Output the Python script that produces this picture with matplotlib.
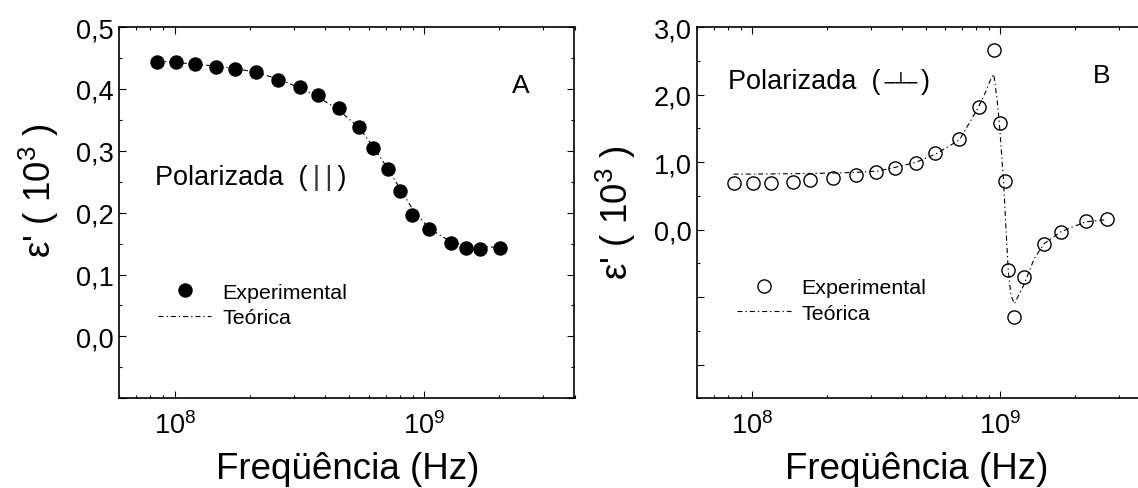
import matplotlib
matplotlib.use("Agg")
import matplotlib.pyplot as plt
from matplotlib.ticker import LogLocator, MultipleLocator, FuncFormatter, NullFormatter
from matplotlib.offsetbox import TextArea, HPacker, AnchoredOffsetbox

# ---- data -------------------------------------------------------------
# Panel A: parallel polarisation
freq_a = [8.46e7, 1.017e8, 1.206e8, 1.461e8, 1.746e8, 2.12e8, 2.585e8, 3.174e8,
          3.74e8, 4.543e8, 5.466e8, 6.25e8, 7.125e8, 7.96e8, 8.95e8, 1.048e9,
          1.282e9, 1.466e9, 1.666e9, 2.003e9]
eps_a = [0.444, 0.443, 0.440, 0.435, 0.432, 0.428, 0.414, 0.403, 0.390, 0.369,
         0.339, 0.304, 0.271, 0.235, 0.197, 0.173, 0.151, 0.143, 0.142, 0.143]

freq_a_theory = [8.5e7, 1.0e8, 1.2e8, 1.45e8, 1.75e8, 2.1e8, 2.6e8, 3.2e8, 3.75e8,
                 4.5e8, 5.5e8, 6.2e8, 7.1e8, 8.0e8, 9.0e8, 1.05e9, 1.28e9, 1.47e9,
                 1.67e9, 2.0e9]
eps_a_theory = [0.445, 0.443, 0.440, 0.437, 0.433, 0.427, 0.416, 0.401, 0.387,
                0.367, 0.337, 0.308, 0.273, 0.239, 0.205, 0.174, 0.153, 0.147,
                0.145, 0.144]

# Panel B: perpendicular polarisation
freq_b = [8.44e7, 1.01e8, 1.193e8, 1.452e8, 1.708e8, 2.121e8, 2.608e8, 3.162e8,
          3.745e8, 4.56e8, 5.47e8, 6.84e8, 8.2e8, 9.4e8, 9.93e8, 1.04e9, 1.073e9,
          1.132e9, 1.24e9, 1.494e9, 1.748e9, 2.21e9, 2.70e9]
eps_b = [0.69, 0.685, 0.694, 0.708, 0.738, 0.762, 0.812, 0.851, 0.91, 0.984,
         1.131, 1.338, 1.81, 2.666, 1.584, 0.713, -0.60, -1.30, -0.70, -0.217,
         -0.033, 0.123, 0.152]

freq_b_theory = [8.4e7, 1.4e8, 2.1e8, 2.6e8, 3.2e8, 3.75e8, 4.55e8, 5.5e8, 6.85e8,
                 8.15e8, 8.75e8, 9.15e8, 9.4e8, 9.7e8, 9.9e8, 1.03e9, 1.057e9,
                 1.077e9, 1.104e9, 1.139e9, 1.175e9, 1.24e9, 1.37e9, 1.5e9,
                 1.75e9, 2.2e9, 2.7e9]
eps_b_theory = [0.82, 0.826, 0.836, 0.846, 0.866, 0.92, 0.994, 1.12, 1.33, 1.81,
                2.05, 2.23, 2.30, 1.93, 1.59, 0.71, -0.09, -0.63, -0.98, -1.10,
                -1.00, -0.83, -0.43, -0.21, -0.035, 0.113, 0.148]

# ---- style ------------------------------------------------------------
plt.rcParams["font.family"] = ["Liberation Sans", "DejaVu Sans"]
plt.rcParams["mathtext.fontset"] = "custom"
plt.rcParams["mathtext.rm"] = "Liberation Sans"
plt.rcParams["mathtext.it"] = "Liberation Sans:italic"
plt.rcParams["mathtext.bf"] = "Liberation Sans:bold"
plt.rcParams["mathtext.default"] = "regular"

W, H = 1138, 489
fig = plt.figure(figsize=(W / 100, H / 100), dpi=100)

ax_bottom = (H - 399.3) / H
ax_height = 371.3 / H
axA = fig.add_axes([119.3 / W, ax_bottom, 455.2 / W, ax_height])
axB = fig.add_axes([697.3 / W, ax_bottom, 452.4 / W, ax_height])

DASHDOT = (4.5, 2.7, 1.2, 2.7)
TICK_FS = 19.5
LABEL_FS = 26.5
LEGEND_FS = 15.4
FAMILY = ["Liberation Sans", "DejaVu Sans"]


def comma_fmt(v, pos):
    if v < -1e-9:
        return ""
    return f"{v:.1f}".replace(".", ",")


def style_axes(ax, ymin, ymax, ymajor, yminor):
    ax.set_xscale("log")
    ax.set_xlim(6e7, 4e9)
    ax.set_ylim(ymin, ymax)
    ax.xaxis.set_major_locator(LogLocator(base=10))
    ax.xaxis.set_minor_locator(LogLocator(base=10, subs=range(2, 10)))
    ax.xaxis.set_minor_formatter(NullFormatter())
    ax.yaxis.set_major_locator(MultipleLocator(ymajor))
    ax.yaxis.set_minor_locator(MultipleLocator(yminor))
    ax.yaxis.set_major_formatter(FuncFormatter(comma_fmt))
    ax.tick_params(which="both", direction="in", top=True, right=True,
                   width=0.8, labelsize=TICK_FS)
    ax.tick_params(which="major", length=5)
    ax.tick_params(which="minor", length=2.5)
    ax.tick_params(axis="y", pad=4)
    ax.tick_params(axis="x", pad=9)
    for s in ax.spines.values():
        s.set_linewidth(1.2)


def polarisation_label(ax, x, y, pieces):
    boxes = [TextArea(txt, textprops=props) for txt, props in pieces]
    row = HPacker(children=boxes, align="baseline", pad=0, sep=0)
    anchored = AnchoredOffsetbox(loc="center left", child=row, pad=0,
                                 borderpad=0, frameon=False,
                                 bbox_to_anchor=(x, y),
                                 bbox_transform=ax.transAxes)
    ax.add_artist(anchored)


# ---- panel A ----------------------------------------------------------
style_axes(axA, -0.1, 0.5, 0.1, 0.05)
lineA, = axA.plot(freq_a_theory, eps_a_theory, color="black", lw=0.8,
                  dashes=DASHDOT, zorder=2)
ptsA, = axA.plot(freq_a, eps_a, "o", color="black", ms=9.4, lw=0, zorder=3)
axA.legend([ptsA, lineA], ["Experimental", "Teórica"], loc="center left",
           bbox_to_anchor=(0.085, 0.251), frameon=False, borderpad=0,
           borderaxespad=0, handlelength=2.5, handletextpad=0.5,
           labelspacing=0.3, fontsize=LEGEND_FS, numpoints=1)
main = dict(fontsize=19.5, family=FAMILY)
polarisation_label(axA, 0.078, 0.597, [
    ("Polarizada  (\u2009", main),
    ("|\u2009|", dict(fontsize=19.5, family=FAMILY, color="#333333")),
    ("\u2009)", main),
])
axA.text(0.882, 0.843, "A", transform=axA.transAxes, fontsize=19,
         ha="center", va="center")
axA.set_xlabel("Freqüência (Hz)", fontsize=LABEL_FS, va="center")
axA.xaxis.set_label_coords(0.501, -0.190)
axA.set_ylabel("ε' ( 10$^{3}$ )", fontsize=LABEL_FS, va="center")
axA.yaxis.set_label_coords(-0.176, 0.5625)

# ---- panel B ----------------------------------------------------------
style_axes(axB, -2.5, 3.0, 1.0, 0.5)
lineB, = axB.plot(freq_b_theory, eps_b_theory, color="black", lw=0.8,
                  dashes=DASHDOT, zorder=2)
ptsB, = axB.plot(freq_b, eps_b, "o", mfc="none", mec="black", mew=1.0,
                 ms=9.5, lw=0, zorder=3)
axB.legend([ptsB, lineB], ["Experimental", "Teórica"], loc="center left",
           bbox_to_anchor=(0.0886, 0.263), frameon=False, borderpad=0,
           borderaxespad=0, handlelength=2.5, handletextpad=0.5,
           labelspacing=0.3, fontsize=LEGEND_FS, numpoints=1)
polarisation_label(axB, 0.0687, 0.854, [
    ("Polarizada  (", main),
    ("\u2009─┴─\u2009", dict(fontsize=13, family=["DejaVu Sans"])),
    (")", main),
])
axB.text(0.894, 0.870, "B", transform=axB.transAxes, fontsize=19,
         ha="center", va="center")
axB.set_xlabel("Freqüência (Hz)", fontsize=LABEL_FS, va="center")
axB.xaxis.set_label_coords(0.486, -0.190)
axB.set_ylabel("ε' ( 10$^{3}$ )", fontsize=LABEL_FS, va="center")
axB.yaxis.set_label_coords(-0.18, 0.504)

fig.savefig("out.png", dpi=100)
